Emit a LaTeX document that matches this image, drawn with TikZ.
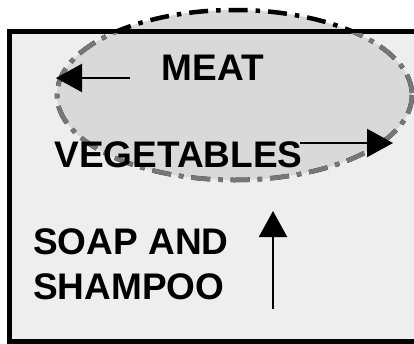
\documentclass[tikz,border=0pt]{standalone}
\usepackage{fontspec}
\setmainfont{Liberation Sans}
\usetikzlibrary{arrows.meta}
\definecolor{roomgray}{HTML}{EEEEEE}
\definecolor{zonegray}{HTML}{D9D9D9}
\definecolor{edgegray}{HTML}{777777}
\begin{document}
\begin{tikzpicture}[
    x=1pt, y=-1pt,
    tag/.style={inner sep=0pt, font=\fontsize{37}{45}\selectfont\bfseries},
    zone/.style={line width=4.5pt, dash pattern=on 19pt off 8pt on 4.5pt off 8pt},
    arrow/.style={-{Triangle[length=26pt, width=28pt]}, line width=2.2pt}
]
    \useasboundingbox (0,0) rectangle (414,343);

    % Store room and overlapping zone
    \fill[roomgray] (9.5,31) rectangle (430,341);
    \fill[zonegray] (234.5,95) ellipse [x radius=177.5, y radius=85];
    \draw[zone, black] (234.5,95) ellipse [x radius=177.5, y radius=85];
    \draw[line width=5pt] (430,31) -- (9.5,31) -- (9.5,341) -- (430,341);
    \begin{scope}
        \clip (12,33.5) rectangle (430,338.5);
        \draw[zone, edgegray] (234.5,95) ellipse [x radius=177.5, y radius=85];
    \end{scope}

    % Labels
    \node[tag] (meat) at (213,68) {MEAT};
    \node[tag] (veg) at (178.5,154.5) {VEGETABLES};
    \node[tag, align=left, anchor=north west] (soap) at (33,228) {SOAP AND\\SHAMPOO};

    % Arrows
    \coordinate (meatTail) at (130,78);
    \coordinate (meatTip) at (56,78);
    \coordinate (vegTail) at (300,143);
    \coordinate (vegTip) at (393,143);
    \coordinate (soapTail) at (273,309);
    \coordinate (soapTip) at (273,211);
    \draw[arrow] (meatTail) -- (meatTip);
    \draw[arrow] (vegTail) -- (vegTip);
    \draw[arrow] (soapTail) -- (soapTip);
\end{tikzpicture}
\end{document}
